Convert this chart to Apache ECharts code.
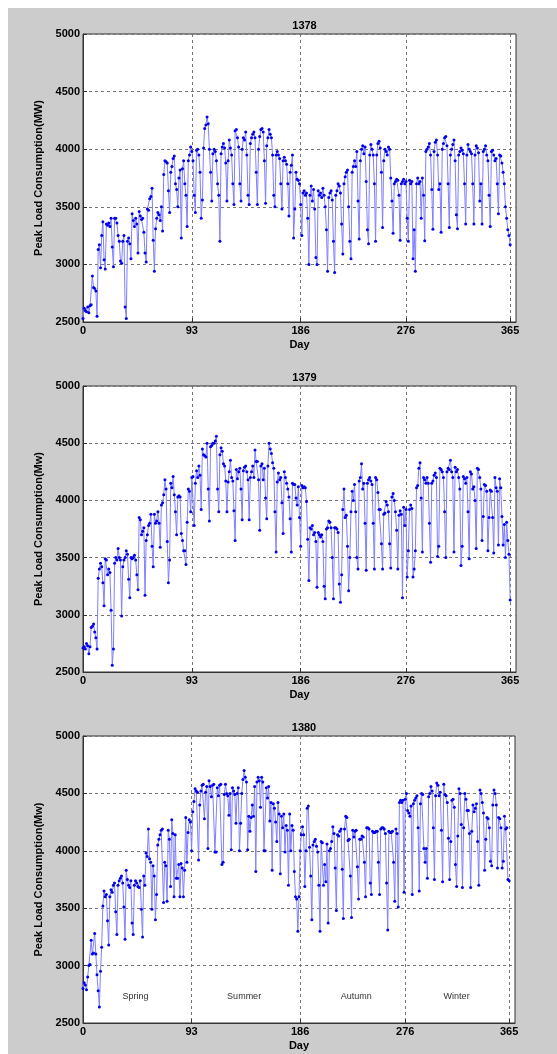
<!DOCTYPE html>
<html>
<head>
<meta charset="utf-8">
<script src="https://cdn.jsdelivr.net/npm/echarts@6/dist/echarts.min.js"></script>
<style>
  html, body { margin: 0; padding: 0; background: #fff; }
  #container { width: 557px; height: 1054px; }
</style>
</head>
<body>
<div id="container"></div>
<script>
// x axis tick labels (day of year)
const dayTicks = [0, 93, 186, 276, 365];
const years = ['1378', '1379', '1380'];
const yNames = ['Peak Load Consumption(MW)', 'Peak Load Consumption(Mw)', 'Peak Load Consumption(Mw)'];
const seasons = ['Spring', 'Summer', 'Autumn', 'Winter'];
const seasonDays = [45, 138, 234, 320];
const seasonLevel = 2730;

// daily peak load, day 0..365, one line per week
const load1378 = [
  2530, 2620, 2600, 2590, 2630, 2580, 2640,
  2650, 2900, 2800, 2790, 2770, 2550, 3130,
  3170, 2970, 3250, 3370, 3040, 2960, 3350,
  3340, 3360, 3330, 3400, 3150, 2980, 3400,
  3400, 3360, 3250, 3200, 3030, 3010, 3200,
  3250, 2630, 2530, 3200, 3230, 3180, 3050,
  3440, 3380, 3330, 3400, 3350, 3100, 3460,
  3420, 3390, 3400, 3280, 3100, 3020, 3480,
  3470, 3570, 3590, 3660, 3210, 2940, 3310,
  3400, 3450, 3430, 3380, 3500, 3290, 3780,
  3900, 3890, 3880, 3640, 3450, 3800, 3850,
  3920, 3940, 3700, 3650, 3500, 3750, 3820,
  3230, 3830, 3900, 3700, 3600, 3330, 3900,
  3950, 4020, 3980, 3900, 3600, 3450, 3990,
  4000, 3950, 3800, 3400, 3560, 4010, 4180,
  4210, 4280, 4220, 4000, 3800, 3550, 3960,
  4000, 3980, 3900, 3700, 3600, 3200, 3960,
  4020, 4050, 4010, 3880, 3550, 3900, 4080,
  4010, 3950, 3700, 3520, 4160, 4170, 4100,
  4020, 3700, 3550, 4000, 4100, 4080, 4150,
  3950, 3600, 3520, 4050, 4100, 4130, 4150,
  4100, 3800, 3520, 4000, 4110, 4170, 4180,
  4150, 3900, 3530, 4030, 4100, 4170, 4130,
  4100, 3950, 3600, 3500, 3950, 3980, 3950,
  3920, 3700, 3480, 3900, 3930, 3900, 3870,
  3700, 3420, 3800, 3860, 3950, 3230, 3480,
  3800, 3740, 3730, 3700, 3520, 3250, 3620,
  3640, 3600, 3620, 3400, 3000, 3600, 3680,
  3550, 3650, 3480, 3060, 3000, 3640, 3600,
  3620, 3580, 3660, 3600, 3500, 3300, 2940,
  3580, 3620, 3640, 3560, 3200, 2930, 3600,
  3640, 3700, 3680, 3620, 3350, 3090, 3700,
  3760, 3800, 3820, 3500, 3200, 3050, 3800,
  3850, 3900, 3850, 3980, 3550, 3220, 3900,
  4000, 4030, 3960, 4020, 3720, 3300, 3180,
  3950, 4040, 4000, 3950, 3700, 3200, 3950,
  4050, 4070, 4010, 3800, 3320, 3900, 4000,
  3980, 3950, 4020, 4000, 3750, 3550, 3270,
  3700, 3720, 3740, 3730, 3600, 3210, 3700,
  3720, 3740, 3700, 3720, 3400, 3200, 3730,
  3700, 3720, 3050, 3300, 2940, 3700, 3750,
  3700, 3720, 3400, 3750, 3600, 3205, 3980,
  4000, 4020, 4050, 3950, 3650, 3305, 3980,
  4060, 4080, 3950, 3650, 3700, 3280, 4000,
  4050, 4100, 4110, 4030, 3700, 3320, 3950,
  4000, 4040, 4080, 3900, 3430, 3310, 3950,
  3980, 4010, 3990, 3960, 3700, 3350, 3950,
  4040, 4000, 3980, 3960, 3700, 3350, 3950,
  4030, 4010, 3970, 3550, 3700, 3350, 3980,
  4000, 4030, 3950, 3900, 3600, 3330, 3980,
  3990, 3950, 3900, 3920, 3700, 3440, 3950,
  3940, 3880, 3800, 3700, 3500, 3400, 3300,
  3250, 3170
];

const load1379 = [
  2710, 2720, 2700, 2750, 2730, 2660, 2720,
  2890, 2900, 2920, 2850, 2800, 2700, 3320,
  3400, 3450, 3420, 3280, 3080, 3490, 3480,
  3350, 3400, 3370, 3040, 2560, 2700, 3450,
  3500, 3480, 3580, 3500, 3480, 2990, 3420,
  3480, 3500, 3560, 3530, 3310, 3150, 3500,
  3490, 3500, 3520, 3480, 3350, 3220, 3850,
  3830, 3700, 3730, 3760, 3170, 3650, 3700,
  3780, 3800, 3880, 3600, 3420, 3880, 3800,
  3820, 3900, 3800, 3590, 3960, 3980, 4050,
  4180, 4100, 3640, 3280, 3480, 4150, 4110,
  4210, 4050, 3900, 3700, 4030, 4040, 4030,
  3710, 3650, 3560, 3560, 3440, 3810, 4100,
  4080, 3900, 4200, 4210, 3780, 4150, 4260,
  4200, 4300, 4220, 3920, 4450, 4400, 4390,
  4380, 4500, 4100, 3820, 4470, 4480, 4500,
  4500, 4520, 4560, 4100, 3900, 4400, 4460,
  4430, 4320, 4300, 4170, 3900, 4160, 4250,
  4350, 4200, 4170, 3910, 3650, 4270, 4190,
  4250, 4280, 4100, 3830, 4260, 4290, 4300,
  4250, 4180, 3830, 4200, 4250, 4300, 4200,
  4440, 4340, 4340, 4180, 3740, 4300, 4320,
  4180, 4280, 4020, 3840, 4300, 4500, 4450,
  4410, 4330, 4280, 3900, 3550, 4160, 4240,
  4180, 4200, 3980, 3710, 4250, 4200, 4150,
  4100, 4030, 3840, 3550, 4150, 4140, 4140,
  4020, 3960, 4120, 3850, 3600, 4130, 4110,
  4120, 4110, 3990, 3660, 3300, 3760, 3750,
  3780, 3700, 3720, 3640, 3240, 3720, 3700,
  3680, 3700, 3640, 3250, 3140, 3750, 3760,
  3820, 3810, 3760, 3500, 3140, 3760, 3760,
  3750, 3720, 3270, 3110, 3350, 3920, 4100,
  3850, 3870, 3600, 3210, 3500, 3900, 4080,
  4000, 4140, 3900, 3500, 3400, 4170, 4200,
  4320, 4100, 4150, 3800, 3390, 4150, 4180,
  4200, 4170, 4140, 3800, 3400, 4200, 4180,
  4070, 3920, 3920, 3620, 3400, 3880, 3890,
  3990, 3960, 3900, 3620, 3410, 4030, 4060,
  4000, 3900, 3740, 3400, 3870, 3910, 3880,
  3150, 3940, 3780, 3920, 3330, 3560, 3920,
  3960, 3930, 3330, 3400, 3560, 4110, 4130,
  4280, 4330, 4020, 3550, 4200, 4180, 4150,
  4200, 4150, 3800, 3460, 4150, 4170, 4220,
  4240, 4200, 3510, 3600, 4280, 4270, 4250,
  4200, 3900, 3500, 4250, 4280, 4270, 4350,
  4250, 4200, 3550, 4290, 4250, 4270, 4200,
  4100, 3430, 3600, 4210, 4190, 4150, 4200,
  3900, 3490, 4250, 4230, 4100, 4120, 4000,
  3580, 4280, 4270, 4200, 4100, 3650, 3860,
  4140, 4130, 4080, 3560, 3850, 4090, 4080,
  3850, 3540, 4200, 4110, 4080, 3610, 4190,
  4110, 3860, 3610, 3790, 3500, 3810, 3650,
  3530, 3130
];

const load1380 = [
  2800, 2850, 2830, 2790, 2900, 3000, 3010,
  3220, 3100, 3110, 3280, 3100, 2920, 2780,
  2640, 2950, 3160, 3520, 3650, 3600, 3620,
  3390, 3180, 3600, 3660, 3640, 3700, 3720,
  3470, 3270, 3700, 3740, 3760, 3780, 3720,
  3510, 3230, 3830, 3750, 3700, 3680, 3740,
  3370, 3270, 3700, 3740, 3720, 3690, 3680,
  3740, 3490, 3250, 3780, 3700, 3980, 3950,
  4190, 3930, 3900, 3490, 3870, 3780, 3400,
  3620, 4050, 4100, 4140, 4180, 4190, 3550,
  3900, 3870, 3560, 4180, 4100, 3690, 4270,
  4150, 3600, 4140, 3760, 3760, 3880, 3600,
  3890, 3850, 3600, 3830, 4290, 3900, 4160,
  4270, 4250, 4000, 4340, 4430, 4540, 4520,
  4510, 3920, 4400, 4520, 4570, 4580, 4280,
  4510, 4560, 4020, 4610, 4560, 4470, 4570,
  4580, 3990, 3990, 4550, 4480, 4570, 4580,
  3880, 3900, 4490, 4580, 4500, 4480, 4310,
  4500, 4010, 4550, 4520, 4490, 4240, 4500,
  4550, 4000, 4240, 4500, 4620, 4700, 4640,
  4600, 4010, 4300, 4170, 4290, 4400, 4300,
  4560, 3820, 4600, 4640, 4610, 4380, 4640,
  4600, 4000, 4000, 4550, 4460, 4560, 4260,
  4420, 3830, 4410, 4370, 4250, 4080, 4420,
  4320, 3800, 4300, 4200, 4320, 3990, 4220,
  4180, 3700, 4320, 4000, 4220, 4180, 3820,
  3600, 3580, 3300, 3600, 4000, 4140, 4210,
  4140, 3690, 4000, 4370, 4390, 4030, 3780,
  3400, 4050, 4080, 4100, 4040, 3990, 3700,
  3300, 4080, 4070, 3700, 3880, 3730, 4060,
  3370, 4000, 4020, 4080, 4210, 4150, 3850,
  3480, 4140, 4130, 4170, 4190, 3840, 3410,
  4190, 4300, 4290, 4090, 4100, 3780, 3420,
  4180, 4120, 4170, 4180, 3860, 3580, 4100,
  4100, 4130, 4120, 3900, 3600, 4200, 4200,
  4190, 3720, 3620, 4170, 4160, 4160, 4170,
  4170, 3900, 3620, 4190, 4200, 4200, 4190,
  4150, 3720, 3310, 4170, 4160, 4160, 4170,
  3900, 3560, 4190, 4150, 3510, 4420, 4440,
  4420, 4440, 3640, 4450, 4500, 4350, 4330,
  4300, 4390, 3620, 4410, 4440, 4460, 4480,
  4200, 3650, 4410, 4500, 4490, 4020, 3900,
  4020, 3760, 4470, 4500, 4560, 4520, 4200,
  3750, 4480, 4590, 4570, 4480, 4510, 4180,
  3730, 4580, 4490, 4480, 4420, 4110, 3750,
  4080, 4440, 4450, 4380, 3880, 3690, 4130,
  4540, 4500, 4230, 3680, 4200, 4500, 4450,
  4350, 4350, 4150, 3680, 4170, 4400, 4340,
  4370, 4410, 4080, 3700, 4530, 4500, 4420,
  4330, 3830, 4100, 4290, 4280, 4200, 3910,
  3870, 4400, 4530, 4500, 4400, 3850, 4290,
  4280, 4200, 3850, 3910, 4300, 4190, 4200,
  3750, 3740
];

const allLoads = [load1378, load1379, load1380];

const chart = echarts.init(document.getElementById('container'));

const grids = [
  { left: 83, top: 34, width: 433, height: 288 },
  { left: 83, top: 386, width: 433, height: 286 },
  { left: 83, top: 736, width: 432, height: 287 }
];

const font = '"Liberation Sans", Arial, sans-serif';
const gridLine = { color: '#777', width: 1, type: [3, 3] };

const option = {
  animation: false,
  backgroundColor: '#fff',
  textStyle: { fontFamily: font },
  graphic: [{
    type: 'rect', z: -10, silent: true,
    shape: { x: 8, y: 8, width: 549, height: 1046 },
    style: { fill: '#cccccc' }
  }],
  title: years.map((y, i) => ({
    text: y,
    left: grids[i].left + grids[i].width / 2,
    textAlign: 'center',
    top: grids[i].top - 19,
    textStyle: { fontSize: 11, fontWeight: 'bold', color: '#000', fontFamily: font }
  })),
  grid: grids.map(g => ({
    ...g, show: true, backgroundColor: '#fff', borderColor: '#333', borderWidth: 1, z: 0
  })),
  xAxis: grids.map((g, i) => ({
    type: 'value', gridIndex: i, min: 0, max: 370,
    name: 'Day', nameLocation: 'middle', nameGap: 17,
    nameTextStyle: { fontSize: 11, fontWeight: 'bold', color: '#000', fontFamily: font },
    axisLine: { show: true, onZero: false, lineStyle: { color: '#333' } },
    axisTick: { show: true, inside: true, length: 4, customValues: dayTicks, lineStyle: { color: '#333' } },
    axisLabel: { customValues: dayTicks, fontSize: 11, fontWeight: 'bold', color: '#000', margin: 3, fontFamily: font },
    splitLine: { show: true, lineStyle: gridLine }
  })),
  yAxis: grids.map((g, i) => ({
    type: 'value', gridIndex: i, min: 2500, max: 5000, interval: 500,
    name: yNames[i], nameLocation: 'middle', nameGap: 30,
    nameTextStyle: { fontSize: 11, fontWeight: 'bold', color: '#000', fontFamily: font },
    axisLine: { show: true, lineStyle: { color: '#333' } },
    axisTick: { show: true, inside: true, length: 4, lineStyle: { color: '#333' } },
    axisLabel: {
      formatter: v => String(v),
      fontSize: 11, fontWeight: 'bold', color: '#000', margin: 3, fontFamily: font
    },
    splitLine: { show: true, lineStyle: gridLine }
  })),
  series: allLoads.map((arr, i) => {
    const s = {
      type: 'line', xAxisIndex: i, yAxisIndex: i,
      data: arr.map((v, d) => [d, v]),
      symbol: 'circle', symbolSize: 3, showAllSymbol: true,
      lineStyle: { color: '#8080ff', width: 1 },
      itemStyle: { color: '#0000ee' },
      z: 3
    };
    if (i === 2) {
      s.markPoint = {
        symbol: 'circle', symbolSize: 0,
        label: { show: true, position: 'inside', formatter: '{b}', fontSize: 9, color: '#333', fontFamily: font },
        data: seasons.map((n, k) => ({ name: n, coord: [seasonDays[k], seasonLevel] }))
      };
    }
    return s;
  })
};

chart.setOption(option);
window.addEventListener('resize', () => {
  chart.resize();
});
</script>
</body>
</html>
